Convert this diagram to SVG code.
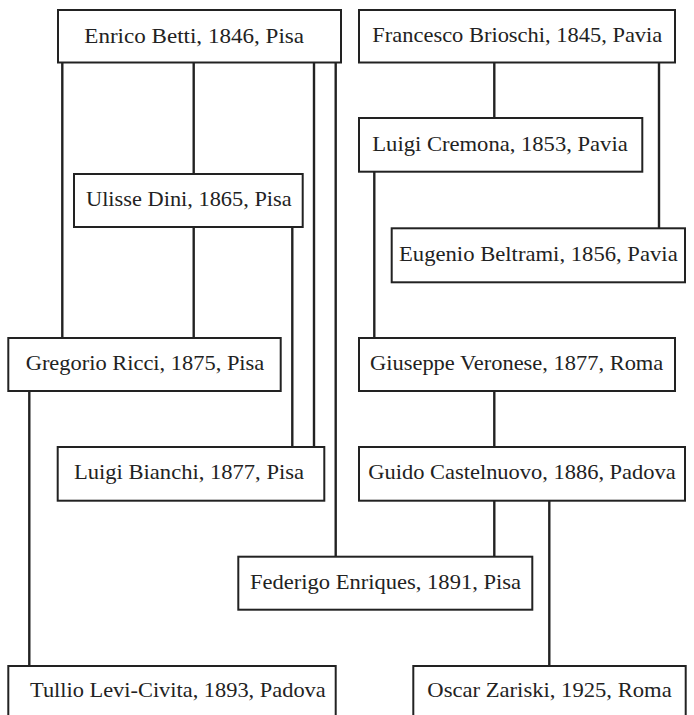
<svg xmlns="http://www.w3.org/2000/svg" width="694" height="715" viewBox="0 0 694 715">
<style>
.box{fill:#fff;stroke:#222;stroke-width:2}
.lbl{font-family:"Liberation Serif","DejaVu Serif",serif;font-size:22px;fill:#222}
#connectors line{stroke:#222;stroke-width:2.4}
</style>
<rect width="694" height="715" fill="#fff"/>
<g id="connectors">
<line x1="62.3" y1="62" x2="62.3" y2="338"/>
<line x1="193.7" y1="62" x2="193.7" y2="174"/>
<line x1="193.7" y1="227" x2="193.7" y2="338"/>
<line x1="292.3" y1="227" x2="292.3" y2="447"/>
<line x1="314" y1="62" x2="314" y2="447"/>
<line x1="335.7" y1="62" x2="335.7" y2="557"/>
<line x1="494.3" y1="62" x2="494.3" y2="118"/>
<line x1="659" y1="62" x2="659" y2="228"/>
<line x1="374.3" y1="172" x2="374.3" y2="338"/>
<line x1="494.3" y1="391" x2="494.3" y2="447"/>
<line x1="494.3" y1="501" x2="494.3" y2="557"/>
<line x1="549.3" y1="501" x2="549.3" y2="666"/>
<line x1="29.3" y1="391" x2="29.3" y2="666"/>
</g>
<g id="betti"><rect class="box" x="58" y="10" width="283" height="52.5"/><text class="lbl" x="84.3" y="42.7" textLength="219.7" lengthAdjust="spacingAndGlyphs">Enrico Betti, 1846, Pisa</text></g>
<g id="brioschi"><rect class="box" x="359" y="10" width="316" height="52.5"/><text class="lbl" x="372.3" y="42" textLength="290" lengthAdjust="spacingAndGlyphs">Francesco Brioschi, 1845, Pavia</text></g>
<g id="cremona"><rect class="box" x="359" y="118" width="283.3" height="53.7"/><text class="lbl" x="372.3" y="151" textLength="255.4" lengthAdjust="spacingAndGlyphs">Luigi Cremona, 1853, Pavia</text></g>
<g id="dini"><rect class="box" x="74" y="174" width="228.7" height="53"/><text class="lbl" x="86" y="205.5" textLength="205.7" lengthAdjust="spacingAndGlyphs">Ulisse Dini, 1865, Pisa</text></g>
<g id="beltrami"><rect class="box" x="391.7" y="228.3" width="293.3" height="54"/><text class="lbl" x="399" y="261" textLength="278.7" lengthAdjust="spacingAndGlyphs">Eugenio Beltrami, 1856, Pavia</text></g>
<g id="ricci"><rect class="box" x="8.3" y="338" width="272.4" height="53"/><text class="lbl" x="25.7" y="370" textLength="238.6" lengthAdjust="spacingAndGlyphs">Gregorio Ricci, 1875, Pisa</text></g>
<g id="veronese"><rect class="box" x="359" y="338" width="316" height="53"/><text class="lbl" x="370" y="370" textLength="293.3" lengthAdjust="spacingAndGlyphs">Giuseppe Veronese, 1877, Roma</text></g>
<g id="bianchi"><rect class="box" x="57.7" y="447" width="266.6" height="53.7"/><text class="lbl" x="74" y="479.3" textLength="230" lengthAdjust="spacingAndGlyphs">Luigi Bianchi, 1877, Pisa</text></g>
<g id="castelnuovo"><rect class="box" x="359" y="447" width="326" height="53.7"/><text class="lbl" x="368.3" y="479.3" textLength="307.4" lengthAdjust="spacingAndGlyphs">Guido Castelnuovo, 1886, Padova</text></g>
<g id="enriques"><rect class="box" x="238.3" y="556.7" width="294" height="53"/><text class="lbl" x="250" y="588.5" textLength="271" lengthAdjust="spacingAndGlyphs">Federigo Enriques, 1891, Pisa</text></g>
<g id="levicivita"><rect class="box" x="8.3" y="666" width="327.4" height="53"/><text class="lbl" x="30" y="697.3" textLength="295.7" lengthAdjust="spacingAndGlyphs">Tullio Levi-Civita, 1893, Padova</text></g>
<g id="zariski"><rect class="box" x="413.3" y="666" width="272.4" height="53"/><text class="lbl" x="427.3" y="697.3" textLength="244.4" lengthAdjust="spacingAndGlyphs">Oscar Zariski, 1925, Roma</text></g>
</svg>
